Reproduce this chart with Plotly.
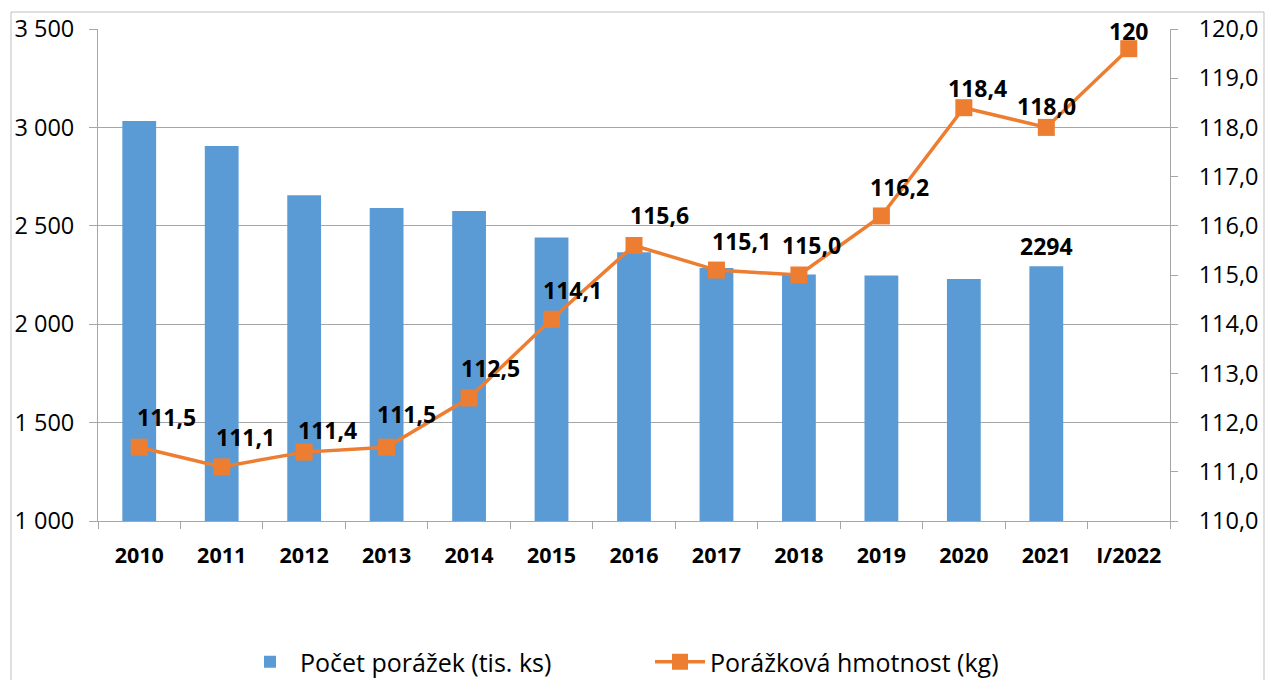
import plotly.graph_objects as go

categories = ["2010", "2011", "2012", "2013", "2014", "2015", "2016",
              "2017", "2018", "2019", "2020", "2021", "I/2022"]
slaughter_count = [3032, 2905, 2655, 2590, 2575, 2440, 2365,
                   2285, 2253, 2248, 2230, 2294, 985]
slaughter_weight = [111.5, 111.1, 111.4, 111.5, 112.5, 114.1, 115.6,
                    115.1, 115.0, 116.2, 118.4, 118.0, 119.6]
bar_label_index = 11  # only the 2021 bar carries a value label

bar_name = "Počet porážek (tis. ks)"
line_name = "Porážková hmotnost (kg)"

BLUE = "#5B9BD5"
ORANGE = "#ED7D31"
GRID = "#A6A6A6"
FONT = "Open Sans"

# Axis ranges (style)
Y1_MIN, Y1_MAX = 1000, 3500
Y2_MIN, Y2_MAX = 110, 120

# label offsets (px) for line data labels — styling only
label_dx = [27, 24, 23, 20, 21, 21, 25, 25, 13, 18, 14, 0, 0]
label_dy = [30, 30, 22, 33, 30, 29, 30, 29, 30, 29, 20, 21, 18]

fig = go.Figure()

fig.add_trace(go.Bar(
    x=categories,
    y=[v - Y1_MIN for v in slaughter_count],
    base=Y1_MIN,
    name=bar_name,
    marker=dict(color=BLUE, line=dict(width=0)),
    cliponaxis=False,
    yaxis="y",
    hovertext=[str(v) for v in slaughter_count],
))

fig.add_trace(go.Scatter(
    x=categories,
    y=slaughter_weight,
    name=line_name,
    mode="lines+markers",
    line=dict(color=ORANGE, width=3.5),
    marker=dict(symbol="square", size=17, color=ORANGE),
    yaxis="y2",
))

annotations = []
for i, v in enumerate(slaughter_weight):
    txt = f"{v:.0f}" if i == len(categories) - 1 else f"{v:.1f}".replace(".", ",")
    annotations.append(dict(
        x=i, y=v, xref="x", yref="y2", text=f"<b>{txt}</b>",
        showarrow=False, xshift=label_dx[i], yshift=label_dy[i],
        font=dict(family=FONT, size=23, color="#000000"),
    ))

annotations.append(dict(
    x=bar_label_index, y=slaughter_count[bar_label_index],
    xref="x", yref="y", text=f"<b>{slaughter_count[bar_label_index]}</b>",
    showarrow=False, yshift=20,
    font=dict(family=FONT, size=23, color="#000000"),
))

# plot area geometry in px for the outer chart border
W, H = 1266, 680
ml, mr, mt, mb = 98, 96, 29, 159
pw, ph = W - ml - mr, H - mt - mb
def px_to_paper_x(px):
    return (px - ml) / pw
def px_to_paper_y(py):
    return (H - mb - py) / ph

shapes = [dict(
    type="rect", xref="paper", yref="paper",
    x0=px_to_paper_x(11), x1=px_to_paper_x(1264),
    y0=px_to_paper_y(700), y1=px_to_paper_y(12),
    line=dict(color="#BFBFBF", width=1), fillcolor="rgba(0,0,0,0)",
    layer="below",
)]

fig.update_layout(
    width=W, height=H,
    margin=dict(l=ml, r=mr, t=mt, b=mb, autoexpand=False),
    paper_bgcolor="white",
    plot_bgcolor="white",
    separators=", ",
    bargap=0.59,
    showlegend=True,
    legend=dict(
        orientation="h", x=px_to_paper_x(240), xanchor="left",
        y=px_to_paper_y(662), yanchor="middle",
        font=dict(family=FONT, size=25, color="#000000"),
        itemwidth=50, traceorder="normal",
        entrywidth=345, entrywidthmode="pixels",
    ),
    font=dict(family=FONT, color="#000000"),
    annotations=annotations,
    shapes=shapes,
    xaxis=dict(
        type="category",
        range=[-0.5, len(categories) - 0.5],
        tickson="boundaries",
        ticks="outside", ticklen=7, tickcolor=GRID,
        showline=True, linecolor=GRID, linewidth=1,
        showgrid=False,
        tickangle=0,
        tickfont=dict(family=FONT, size=21.5, color="#000000", weight="bold"),
        ticklabelstandoff=15,
    ),
    yaxis=dict(
        range=[Y1_MIN, Y1_MAX], dtick=500, tick0=0,
        tickformat=",d",
        showgrid=True, gridcolor=GRID, gridwidth=1,
        showline=True, linecolor=GRID, linewidth=1,
        ticks="outside", ticklen=8, tickcolor=GRID,
        tickfont=dict(family=FONT, size=23.5, color="#000000"),
        ticklabelstandoff=10,
        zeroline=False,
    ),
    yaxis2=dict(
        range=[Y2_MIN, Y2_MAX], dtick=1, tick0=110,
        tickformat=".1f",
        overlaying="y", side="right",
        showgrid=False,
        showline=True, linecolor=GRID, linewidth=1,
        ticks="outside", ticklen=7, tickcolor=GRID,
        tickfont=dict(family=FONT, size=23.5, color="#000000"),
        ticklabelstandoff=16,
        zeroline=False,
    ),
)

fig.write_html("out.html")
